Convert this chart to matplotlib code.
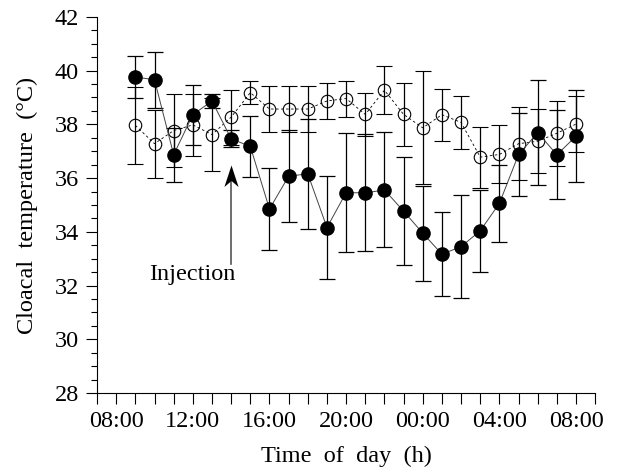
from __future__ import annotations

import matplotlib.pyplot as plt
from matplotlib.path import Path
from matplotlib.ticker import FuncFormatter, MultipleLocator


# hours since midnight of the first day (09:00 .. 08:00 next day)
HOURS = list(range(9, 33))

INJECTED_MEAN = [
	39.76, 39.66, 36.87, 38.36, 38.87, 37.46, 37.18, 34.85, 36.07, 36.16, 34.16, 35.46,
	35.45, 35.56, 34.77, 33.95, 33.17, 33.45, 34.04, 35.06, 36.88, 37.69, 36.87, 37.56,
]
INJECTED_SD = [
	0.77, 1.05, 1.00, 1.12, 0.25, 0.32, 1.14, 1.52, 1.72, 2.04, 1.93, 2.22,
	2.18, 2.14, 2.00, 1.77, 1.56, 1.91, 1.53, 1.43, 1.55, 1.96, 1.66, 1.70,
]

CONTROL_MEAN = [
	37.96, 37.28, 37.77, 37.98, 37.62, 38.27, 39.18, 38.57, 38.57, 38.57, 38.87, 38.96,
	38.37, 39.27, 38.37, 37.87, 38.36, 38.07, 36.78, 36.88, 37.28, 37.37, 37.67, 38.01,
]
CONTROL_SD = [
	1.42, 1.27, 1.35, 1.15, 1.35, 1.02, 0.43, 0.87, 0.87, 0.86, 0.68, 0.67,
	0.80, 0.89, 1.18, 2.10, 0.97, 1.00, 1.13, 1.08, 1.35, 1.19, 1.21, 1.03,
]

INJECTION_HOUR = 14
X_LABEL = "Time  of  day  (h)"
Y_LABEL = "Cloacal  temperature  (°C)"

# concave arrow head, tip at the origin
ARROW_HEAD = Path(
	[(0, 0), (-0.33, -1.0), (0, -0.72), (0.33, -1.0), (0, 0)],
	[Path.MOVETO, Path.LINETO, Path.LINETO, Path.LINETO, Path.CLOSEPOLY],
)


def hour_label(value: float, _pos: int) -> str:
	return f"{int(round(value)) % 24:02d}:00"


def main() -> None:
	plt.rcParams["font.family"] = ["Liberation Serif", "DejaVu Serif"]
	plt.rcParams["font.size"] = 17.5

	fig = plt.figure(figsize=(6.2, 4.68), dpi=100)
	ax = fig.add_axes([0.1565, 0.160, 0.8035, 0.804])

	err_style = dict(ecolor="black", elinewidth=0.9, capsize=6, capthick=0.9)

	ax.errorbar(
		HOURS, CONTROL_MEAN, yerr=CONTROL_SD,
		fmt="o", markersize=9, markerfacecolor="none", markeredgecolor="black",
		markeredgewidth=0.8, linestyle=(0, (3, 3)), color="black", linewidth=0.6,
		zorder=2, **err_style,
	)
	ax.errorbar(
		HOURS, INJECTED_MEAN, yerr=INJECTED_SD,
		fmt="o", markersize=9.5, markerfacecolor="black", markeredgecolor="black",
		linestyle="-", color="#444444", linewidth=0.7,
		zorder=3, **err_style,
	)

	# injection arrow: shaft plus concave head
	ax.plot([INJECTION_HOUR, INJECTION_HOUR], [32.8, 36.0], color="#555555", linewidth=1.2, zorder=1)
	ax.plot(
		[INJECTION_HOUR], [36.5], marker=ARROW_HEAD, markersize=31,
		color="black", markeredgewidth=0, linestyle="none", zorder=1,
	)
	ax.text(11.95, 32.4, "Injection", ha="center", va="center", fontsize=17.5)

	ax.set_xlim(7, 33)
	ax.set_ylim(28, 42)
	ax.xaxis.set_major_locator(MultipleLocator(4))
	ax.xaxis.set_minor_locator(MultipleLocator(1))
	ax.xaxis.set_major_formatter(FuncFormatter(hour_label))
	ax.yaxis.set_major_locator(MultipleLocator(2))
	ax.yaxis.set_minor_locator(MultipleLocator(0.5))

	ax.tick_params(axis="x", which="both", direction="out", length=8, width=0.8, pad=5)
	ax.tick_params(axis="y", which="major", direction="out", length=8, width=0.8, pad=5)
	ax.tick_params(axis="y", which="minor", direction="out", length=4.5, width=0.8)

	for side in ("top", "right"):
		ax.spines[side].set_visible(False)
	for side in ("left", "bottom"):
		ax.spines[side].set_linewidth(0.8)

	ax.set_xlabel(X_LABEL)
	ax.set_ylabel(Y_LABEL)
	ax.xaxis.set_label_coords(0.5, -0.14)
	ax.yaxis.set_label_coords(-0.118, 0.5)

	fig.savefig("out.png", dpi=100)
	plt.close(fig)


if __name__ == "__main__":
	main()
